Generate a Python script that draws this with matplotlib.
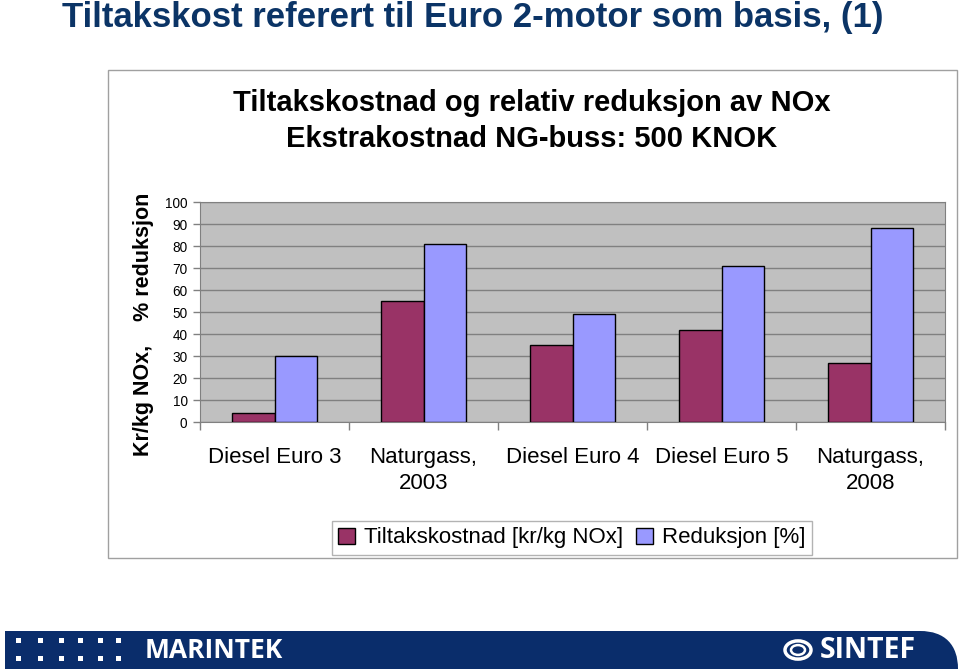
import matplotlib
matplotlib.use("Agg")
import matplotlib.pyplot as plt
import numpy as np
from matplotlib.patches import Rectangle, PathPatch, Circle
from matplotlib.path import Path

categories = ["Diesel Euro 3", "Naturgass,\n2003", "Diesel Euro 4", "Diesel Euro 5", "Naturgass,\n2008"]
tiltakskostnad = [4, 55, 35, 42, 27]
reduksjon = [30, 81, 49, 71, 88]
yticks = [0, 10, 20, 30, 40, 50, 60, 70, 80, 90, 100]

plt.rcParams['font.family'] = ['Liberation Sans', 'DejaVu Sans']

fig = plt.figure(figsize=(9.6, 6.72), dpi=100)
W, H = 960, 672

def fx(x):
    return x / W

def fy(y):
    return 1 - y / H

# Main title
fig.text(fx(62), fy(17), "Tiltakskost referert til Euro 2-motor som basis, (1)",
         fontsize=25, fontweight='bold', color='#0B3466', ha='left', va='center')

# Chart frame
fig.patches.append(Rectangle((fx(108), fy(558)), fx(957) - fx(108), fy(70) - fy(558),
                             transform=fig.transFigure, facecolor='white',
                             edgecolor='#A0A0A0', lw=1.0, zorder=-5))

fig.text(fx(532), fy(103), "Tiltakskostnad og relativ reduksjon av NOx",
         fontsize=21, fontweight='bold', ha='center', va='center')
fig.text(fx(532), fy(139), "Ekstrakostnad NG-buss: 500 KNOK",
         fontsize=21, fontweight='bold', ha='center', va='center')

ax = fig.add_axes([fx(200), fy(422), (945 - 200) / W, (422 - 202) / H])
ax.set_facecolor('#C0C0C0')

x = np.arange(len(categories))
bw = 0.285
ax.bar(x - bw / 2, tiltakskostnad, bw, color='#993366', edgecolor='black', lw=1.0,
       label='Tiltakskostnad [kr/kg NOx]', zorder=3)
ax.bar(x + bw / 2, reduksjon, bw, color='#9999FF', edgecolor='black', lw=1.0,
       label='Reduksjon [%]', zorder=3)

ax.set_xlim(-0.5, len(categories) - 0.5)
ax.set_ylim(0, 100)
ax.set_yticks(yticks)
ax.set_yticklabels([str(v) for v in yticks], fontsize=9.8)
ax.yaxis.grid(True, color='#808080', lw=1.0, zorder=1)
ax.set_axisbelow(True)

ax.set_xticks(x)
ax.set_xticklabels(categories, fontsize=16, linespacing=1.3)
ax.set_xticks(np.arange(len(categories) + 1) - 0.5, minor=True)
ax.tick_params(axis='x', which='major', length=0, pad=18)
ax.tick_params(axis='x', which='minor', length=6, color='#808080', width=1.0)
ax.tick_params(axis='y', length=5, color='#808080', width=1.0, pad=4)

for s in ['top', 'right', 'left', 'bottom']:
    ax.spines[s].set_color('#808080')

ax.set_ylabel("Kr/kg NOx,    % reduksjon", fontsize=15.5, fontweight='bold')
ax.yaxis.set_label_coords(-0.062, 0.445)

leg = ax.legend(loc='center', bbox_to_anchor=(fx(572), fy(538)), bbox_transform=fig.transFigure,
                ncol=2, frameon=True, fancybox=False, fontsize=16,
                handlelength=0.75, handleheight=0.75, handletextpad=0.4,
                columnspacing=0.6, borderpad=0.3, edgecolor='#A0A0A0')
leg.get_frame().set_linewidth(1.0)

# Bottom banner
navy = '#0A2D6B'
verts = [(fx(5), fy(631)), (fx(920), fy(631)),
         (fx(945), fy(631)), (fx(958), fy(645)), (fx(958), fy(669)),
         (fx(5), fy(669)), (fx(5), fy(631))]
codes = [Path.MOVETO, Path.LINETO, Path.CURVE4, Path.CURVE4, Path.CURVE4,
         Path.LINETO, Path.CLOSEPOLY]
fig.patches.append(PathPatch(Path(verts, codes), transform=fig.transFigure,
                             facecolor=navy, edgecolor='none'))

for dx in [18, 40, 61, 80, 100, 118]:
    for dy in [640, 658]:
        fig.patches.append(Rectangle((fx(dx - 2.5), fy(dy + 2.5)), 5 / W, 5 / H,
                                     transform=fig.transFigure, facecolor='white',
                                     edgecolor='none'))

fig.text(fx(145), fy(651), "MARINTEK", fontsize=19, fontweight='bold', color='white',
         ha='left', va='center', family=['Open Sans', 'Liberation Sans'])
fig.text(fx(820), fy(651), "SINTEF", fontsize=20.5, fontweight='bold', color='white',
         ha='left', va='center', family=['Open Sans', 'Liberation Sans'])
fig.patches.append(Circle((fx(798), fy(650)), 13 / W, transform=fig.transFigure,
                          facecolor='none', edgecolor='white', lw=2.5))
fig.patches.append(Circle((fx(798), fy(650)), 7 / W, transform=fig.transFigure,
                          facecolor='none', edgecolor='white', lw=1.8))

fig.savefig("out.png", dpi=100)
